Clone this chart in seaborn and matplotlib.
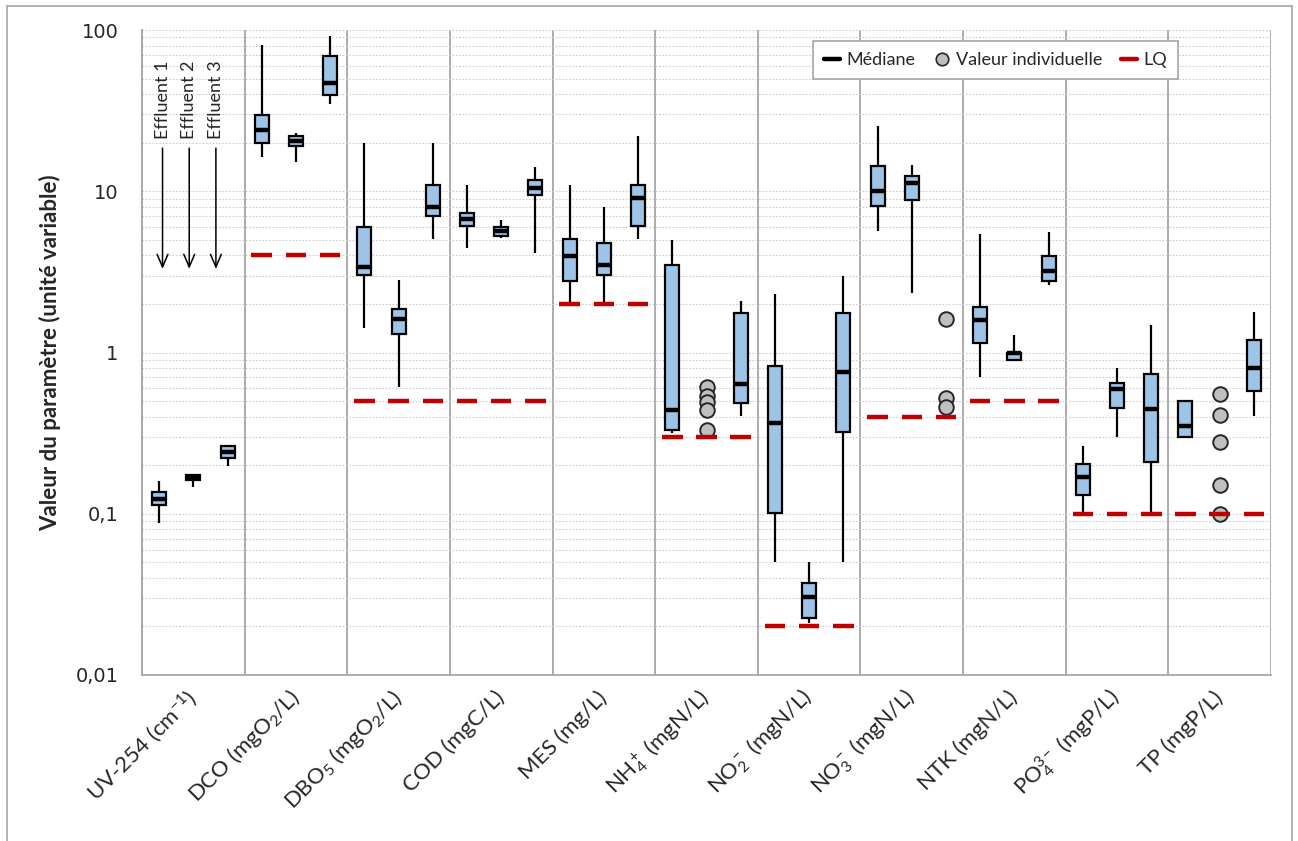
import matplotlib
matplotlib.use('Agg')
import matplotlib.pyplot as plt
from matplotlib.lines import Line2D
from matplotlib.ticker import FixedLocator, LogLocator, NullFormatter, FuncFormatter
import numpy as np
import pandas as pd
import seaborn as sns

#%% DATA (values per parameter for effluents 1, 2, 3)
params = ['UV-254', 'DCO', 'DBO5', 'COD', 'MES', 'NH4', 'NO2', 'NO3', 'NTK', 'PO4', 'TP']
param_labels = ['UV-254 (cm$^{-1}$)', 'DCO (mgO$_2$/L)', 'DBO$_5$ (mgO$_2$/L)',
                'COD (mgC/L)', 'MES (mg/L)', 'NH$_4^+$ (mgN/L)', 'NO$_2^-$ (mgN/L)',
                'NO$_3^-$ (mgN/L)', 'NTK (mgN/L)', 'PO$_4^{3-}$ (mgP/L)', 'TP (mgP/L)']
effluents = ['Effluent 1', 'Effluent 2', 'Effluent 3']

whisk_lo = [(0.087, 0.146, 0.198), (16.3, 15.2, 34.8), (1.41, 0.607, 5.07),
            (4.43, 5.1, 4.13), (2.02, 2.0, 5.07), (0.317, None, 0.404),
            (0.0505, 0.021, 0.0505), (5.65, 2.33, None), (0.703, 0.90, 2.63),
            (0.102, 0.301, 0.102), (0.301, None, 0.404)]
q1 = [(0.1135, 0.162, 0.223), (19.9, 19.1, 39.5), (3.03, 1.31, 7.06),
      (6.07, 5.26, 9.5), (2.77, 3.03, 6.07), (0.331, None, 0.489),
      (0.1004, 0.0225, 0.321), (8.07, 8.77, None), (1.15, 0.90, 2.77),
      (0.131, 0.453, 0.209), (0.301, None, 0.577)]
med = [(0.124, 0.167, 0.242), (24, 20.5, 47.2), (3.41, 1.61, 7.98),
       (6.76, 5.65, 10.5), (3.98, 3.50, 9.06), (0.441, None, 0.638),
       (0.366, 0.0303, 0.758), (10.0, 11.2, None), (1.60, 0.99, 3.2),
       (0.170, 0.598, 0.444), (0.348, None, 0.798)]
q3 = [(0.136, 0.173, 0.262), (29.8, 22.1, 68.7), (6.03, 1.85, 11.0),
      (7.38, 5.99, 11.8), (5.03, 4.76, 11.0), (3.48, None, 1.77),
      (0.824, 0.0374, 1.77), (14.3, 12.4, None), (1.91, 1.0, 3.95),
      (0.203, 0.651, 0.739), (0.501, None, 1.20)]
whisk_hi = [(0.16, 0.173, 0.267), (81, 23, 92), (20, 2.80, 20),
            (11, 6.63, 14.1), (11, 8.02, 22), (5.0, None, 2.10),
            (2.31, 0.0499, 2.99), (25.3, 14.5, None), (5.47, 1.29, 5.58),
            (0.262, 0.798, 1.49), (0.501, None, 1.79)]

# individual values where there were too few samples for a box
points_nh4_eff2 = [0.61, 0.54, 0.49, 0.44, 0.33]
points_no3_eff3 = [1.61, 0.52, 0.46]
points_tp_eff2 = [0.55, 0.41, 0.28, 0.15, 0.10]

# limite de quantification per parameter (none for UV-254)
lq = [None, 4, 0.5, 0.5, 2, 0.3, 0.02, 0.4, 0.5, 0.1, 0.1]

#%% BUILD LONG TABLE (5 values per box -> quartiles fall exactly on them)
rows = []
for i, p in enumerate(params):
    for j, eff in enumerate(effluents):
        vals = [whisk_lo[i][j], q1[i][j], med[i][j], q3[i][j], whisk_hi[i][j]]
        if vals[0] is None:
            continue
        for v in vals:
            rows.append({'Parametre': p, 'Effluent': eff, 'Valeur': v})
df = pd.DataFrame(rows)

pts = pd.DataFrame(
    [{'x': params.index('NH4') + (1 - 1) / 3, 'Valeur': v} for v in points_nh4_eff2]
    + [{'x': params.index('NO3') + (2 - 1) / 3, 'Valeur': v} for v in points_no3_eff3]
    + [{'x': params.index('TP') + (1 - 1) / 3, 'Valeur': v} for v in points_tp_eff2]
)

#%% CONFIGS
sns.set_style('white')
plt.rcParams['font.family'] = ['Lato', 'DejaVu Sans']
plt.rcParams['mathtext.fontset'] = 'custom'
plt.rcParams['mathtext.rm'] = 'Lato'
plt.rcParams['mathtext.it'] = 'Lato:italic'
plt.rcParams['mathtext.bf'] = 'Lato:bold'
plt.rcParams['mathtext.default'] = 'regular'

grid_col = '#A6A6A6'
box_col = '#9DC3E6'
lq_col = '#C00000'

fig = plt.figure(figsize=(12.98, 8.41), dpi=100)
ax = fig.add_axes([0.1094, 0.1974, 0.8698, 0.7669])
ax.set_yscale('log')

#%% BOXES
sns.boxplot(data=df, x='Parametre', y='Valeur', hue='Effluent',
            order=params, hue_order=effluents,
            palette={e: box_col for e in effluents}, saturation=1,
            width=1.0, gap=0.59, dodge=True, whis=(0, 100),
            showcaps=False, fliersize=0, linecolor='black', linewidth=1.6,
            medianprops={'linewidth': 3.2, 'color': 'black'},
            legend=False, ax=ax, zorder=5)

#%% INDIVIDUAL VALUES
sns.scatterplot(data=pts, x='x', y='Valeur', ax=ax, s=110, color='#BFBFBF',
                edgecolor='#262626', linewidth=1.4, zorder=6, legend=False)

#%% LQ DASHES (one under each effluent slot)
for i, v in enumerate(lq):
    if v is None:
        continue
    for j in range(3):
        c = i + (j - 1) / 3
        ax.hlines(v, c - 0.1, c + 0.1, color=lq_col, linewidth=3.2, zorder=7)

#%% AXES STYLE
ax.set_xlim(-0.5, len(params) - 0.5)
ax.set_ylim(0.01, 100)

ax.yaxis.set_major_locator(FixedLocator([0.01, 0.1, 1, 10, 100]))
ax.yaxis.set_major_formatter(FuncFormatter(lambda v, _: f'{v:g}'.replace('.', ',')))
ax.yaxis.set_minor_locator(LogLocator(base=10, subs=np.arange(2, 10)))
ax.yaxis.set_minor_formatter(NullFormatter())
ax.grid(axis='y', which='both', color='#CDCDCD', linestyle=(0, (1.5, 1.5)), linewidth=0.8)

ax.set_xticks(range(len(params)))
ax.set_xticklabels(param_labels, rotation=45, ha='right', va='center',
                   rotation_mode='anchor', fontsize=16)
ax.set_xticks(np.arange(-0.5, len(params)), minor=True)
ax.grid(axis='x', which='minor', color=grid_col, linestyle='-', linewidth=1.3)
ax.grid(axis='x', which='major', visible=False)
ax.tick_params(axis='x', which='major', length=0, pad=14)
ax.tick_params(axis='x', which='minor', length=7, width=1.3, color=grid_col, direction='out')
ax.tick_params(axis='y', which='major', length=7, width=1.3, color=grid_col,
               direction='out', labelsize=14, pad=10)
ax.tick_params(axis='y', which='minor', length=0)
for lab in ax.get_yticklabels():
    lab.set_fontfamily('DejaVu Sans')

ax.set_xlabel('')
ax.set_ylabel('Valeur du paramètre (unité variable)', fontsize=16,
              fontweight='bold', labelpad=10)

for side in ['top', 'right']:
    ax.spines[side].set_visible(False)
for side in ['left', 'bottom']:
    ax.spines[side].set_color(grid_col)
    ax.spines[side].set_linewidth(1.3)
ax.set_axisbelow(True)

#%% EFFLUENT ANNOTATIONS IN THE FIRST CATEGORY
for j, eff in enumerate(effluents):
    xpos = -0.3 + j * 0.26
    ax.annotate(eff, xy=(xpos, 3.3), xytext=(xpos, 21), textcoords='data',
                rotation=90, ha='center', va='bottom', fontsize=13,
                arrowprops=dict(arrowstyle='->,head_length=0.7,head_width=0.3',
                                color='black', lw=1.1, shrinkA=4, shrinkB=0))

#%% LEGEND
handles = [Line2D([], [], color='black', linewidth=3.2),
           Line2D([], [], linestyle='none', marker='o', markersize=9,
                  markerfacecolor='#BFBFBF', markeredgecolor='#262626', markeredgewidth=1.2),
           Line2D([], [], color=lq_col, linewidth=3.2)]
leg = ax.legend(handles, ['Médiane', 'Valeur individuelle', 'LQ'], ncol=3,
                loc='upper right', bbox_to_anchor=(0.9176, 0.983), borderaxespad=0,
                fontsize=13, handlelength=0.9, handletextpad=0.35, columnspacing=1.0,
                frameon=True, fancybox=False, framealpha=1, borderpad=0.6)
leg.get_frame().set_edgecolor('#A6A6A6')
leg.get_frame().set_linewidth(1.2)
leg.set_zorder(10)

#%% OUTER FRAME (left, top, right)
W, H = 1298, 841
frame = dict(color='#A6A6A6', linewidth=1.2, transform=fig.transFigure)
fig.add_artist(Line2D([7 / W, 7 / W], [0, 1 - 6 / H], **frame))
fig.add_artist(Line2D([7 / W, 1292 / W], [1 - 6 / H, 1 - 6 / H], **frame))
fig.add_artist(Line2D([1292 / W, 1292 / W], [0, 1 - 6 / H], **frame))

fig.savefig('out.png', dpi=100)
